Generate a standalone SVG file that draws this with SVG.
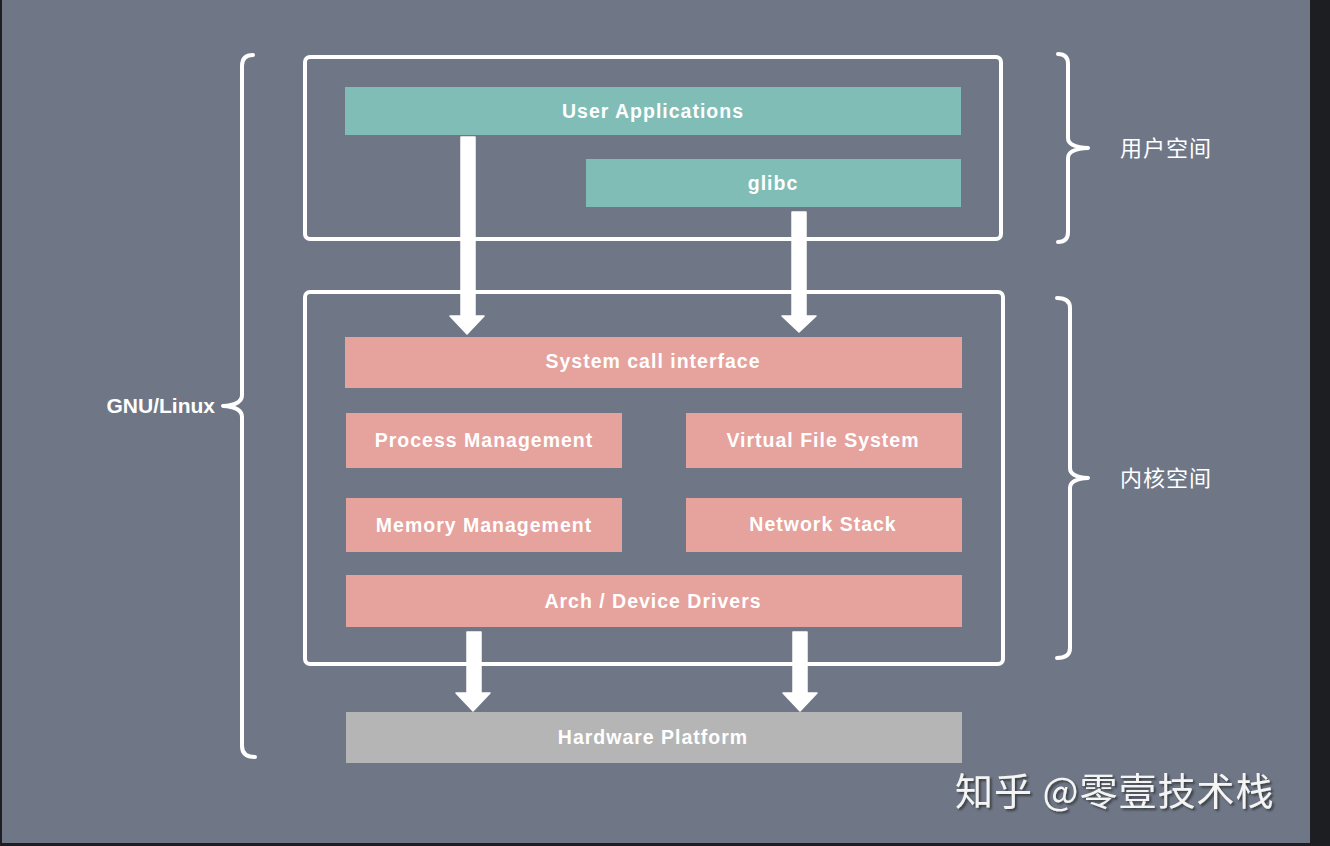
<svg xmlns="http://www.w3.org/2000/svg" width="1330" height="846" viewBox="0 0 1330 846">
<defs>
<style>
.bg{fill:#6f7787}
.frame{fill:none;stroke:#ffffff;stroke-width:4}
.brace{fill:none;stroke:#ffffff;stroke-width:4;stroke-linecap:round;stroke-linejoin:round}
.teal{fill:#80bdb6}
.pink{fill:#e6a29d}
.gray{fill:#b5b5b5}
.lbl{font-family:"Liberation Sans",Arial,sans-serif;font-weight:bold;font-size:19.5px;fill:#ffffff;text-anchor:middle;dominant-baseline:central;letter-spacing:1px}
.side{font-family:"Liberation Sans","Noto Sans CJK SC",sans-serif;font-size:22px;fill:#ffffff;dominant-baseline:central;letter-spacing:1px}
.gnu{font-family:"Liberation Sans",Arial,sans-serif;font-weight:bold;font-size:21px;fill:#ffffff;dominant-baseline:central;text-anchor:end}
.arrow{fill:#ffffff;stroke:#ffffff;stroke-width:1.5;stroke-linejoin:round}
.wm{font-family:"Noto Sans CJK SC","Liberation Sans",sans-serif;font-size:38px;fill:#f4f4f4;letter-spacing:1px}
</style>
<filter id="sh" x="-10%" y="-20%" width="130%" height="150%">
<feDropShadow dx="2" dy="2" stdDeviation="1.2" flood-color="#2a2d33" flood-opacity="0.8"/>
</filter>
</defs>
<rect x="0" y="0" width="1330" height="846" fill="#1d1e21"/>
<rect class="bg" x="2" y="0" width="1308" height="843"/>

<g id="user-space">
<rect class="frame" x="305" y="57" width="696" height="182" rx="5"/>
</g>
<g id="kernel-space">
<rect class="frame" x="305" y="292" width="698" height="372" rx="5"/>
</g>

<g id="user-applications">
<rect class="teal" x="345" y="87" width="616" height="48"/>
<text class="lbl" x="653" y="111">User Applications</text>
</g>
<g id="glibc">
<rect class="teal" x="586" y="159" width="375" height="48"/>
<text class="lbl" x="773" y="183">glibc</text>
</g>
<g id="system-call-interface">
<rect class="pink" x="345" y="337" width="617" height="51"/>
<text class="lbl" x="653" y="361">System call interface</text>
</g>
<g id="process-management">
<rect class="pink" x="346" y="413" width="276" height="55"/>
<text class="lbl" x="484" y="440">Process Management</text>
</g>
<g id="virtual-file-system">
<rect class="pink" x="686" y="413" width="276" height="55"/>
<text class="lbl" x="823" y="440">Virtual File System</text>
</g>
<g id="memory-management">
<rect class="pink" x="346" y="498" width="276" height="54"/>
<text class="lbl" x="484" y="525">Memory Management</text>
</g>
<g id="network-stack">
<rect class="pink" x="686" y="498" width="276" height="54"/>
<text class="lbl" x="823" y="524">Network Stack</text>
</g>
<g id="arch-device-drivers">
<rect class="pink" x="346" y="575" width="616" height="52"/>
<text class="lbl" x="653" y="601">Arch / Device Drivers</text>
</g>
<g id="hardware-platform">
<rect class="gray" x="346" y="712" width="616" height="51"/>
<text class="lbl" x="653" y="737">Hardware Platform</text>
</g>

<g id="connectors">
<rect class="arrow" x="461" y="137" width="14" height="180"/>
<polygon class="arrow" points="450,316 484,316 467,334"/>
<rect class="arrow" x="792" y="212" width="14" height="105"/>
<polygon class="arrow" points="782,316 816,316 799,332"/>
<rect class="arrow" x="467" y="632" width="14" height="62"/>
<polygon class="arrow" points="456,693 490,693 473,711"/>
<rect class="arrow" x="793" y="632" width="14" height="62"/>
<polygon class="arrow" points="783,693 817,693 800,711"/>
</g>

<g id="gnu-linux">
<path class="brace" d="M253,55 Q242,55 242,66 L242,395 Q242,405 223,406 Q242,407 242,417 L242,746 Q242,757 255,757"/>
<text class="gnu" x="215" y="405">GNU/Linux</text>
</g>
<g id="user-space-label">
<path class="brace" d="M1058,54 Q1068,54 1068,64 L1068,138 Q1068,147 1088,148 Q1068,149 1068,158 L1068,232 Q1068,242 1058,242"/>
<text class="side" x="1120" y="148">用户空间</text>
</g>
<g id="kernel-space-label">
<path class="brace" d="M1057,298 Q1070,298 1070,308 L1070,468 Q1070,477 1088,478 Q1070,479 1070,488 L1070,648 Q1070,658 1057,658"/>
<text class="side" x="1120" y="478">内核空间</text>
</g>

<text class="wm" x="955" y="805" filter="url(#sh)">知乎 @零壹技术栈</text>
</svg>
